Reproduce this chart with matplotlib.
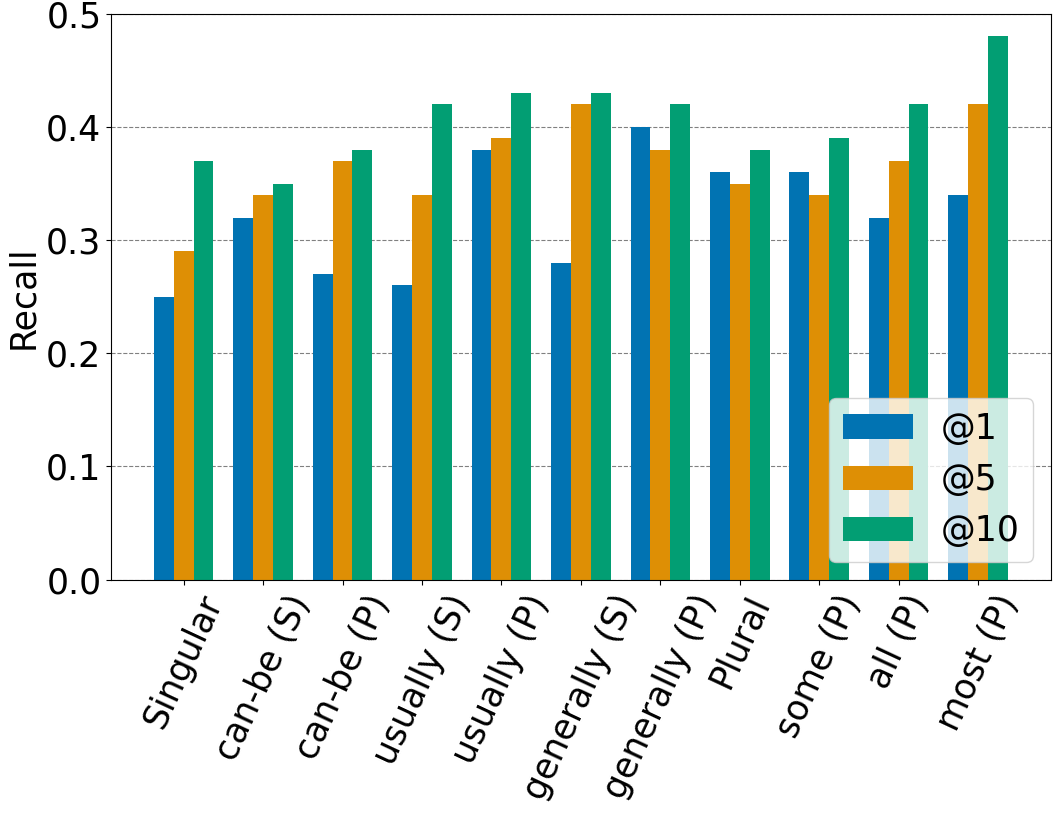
import matplotlib
matplotlib.use("Agg")
import matplotlib.pyplot as plt
import numpy as np

categories = ["Singular", "can-be (S)", "can-be (P)", "usually (S)", "usually (P)",
              "generally (S)", "generally (P)", "Plural", "some (P)", "all (P)", "most (P)"]
recall_1 = [0.25, 0.32, 0.27, 0.26, 0.38, 0.28, 0.40, 0.36, 0.36, 0.32, 0.34]
recall_5 = [0.29, 0.34, 0.37, 0.34, 0.39, 0.42, 0.38, 0.35, 0.34, 0.37, 0.42]
recall_10 = [0.37, 0.35, 0.38, 0.42, 0.43, 0.43, 0.42, 0.38, 0.39, 0.42, 0.48]

colors = ["#0173B2", "#DE8F05", "#029E73"]

fig, ax = plt.subplots(figsize=(10.59, 8.13), dpi=100)
x = np.arange(len(categories))
w = 0.25
ax.bar(x - w, recall_1, w, color=colors[0], label="@1", zorder=2)
ax.bar(x, recall_5, w, color=colors[1], label="@5", zorder=2)
ax.bar(x + w, recall_10, w, color=colors[2], label="@10", zorder=2)

ax.set_ylim(0, 0.5)
ax.set_yticks([0.0, 0.1, 0.2, 0.3, 0.4, 0.5])
ax.yaxis.grid(True, linestyle="--", color="gray", linewidth=0.8, zorder=0)
ax.set_ylabel("Recall", fontsize=25)
ax.set_xticks(x)
ax.set_xticklabels(categories, rotation=65, ha="center", fontsize=25)
ax.tick_params(axis="y", labelsize=25)
ax.legend(loc="lower right", fontsize=25)

fig.subplots_adjust(left=0.105, right=0.992, top=0.983, bottom=0.287)
fig.savefig("out.png")
